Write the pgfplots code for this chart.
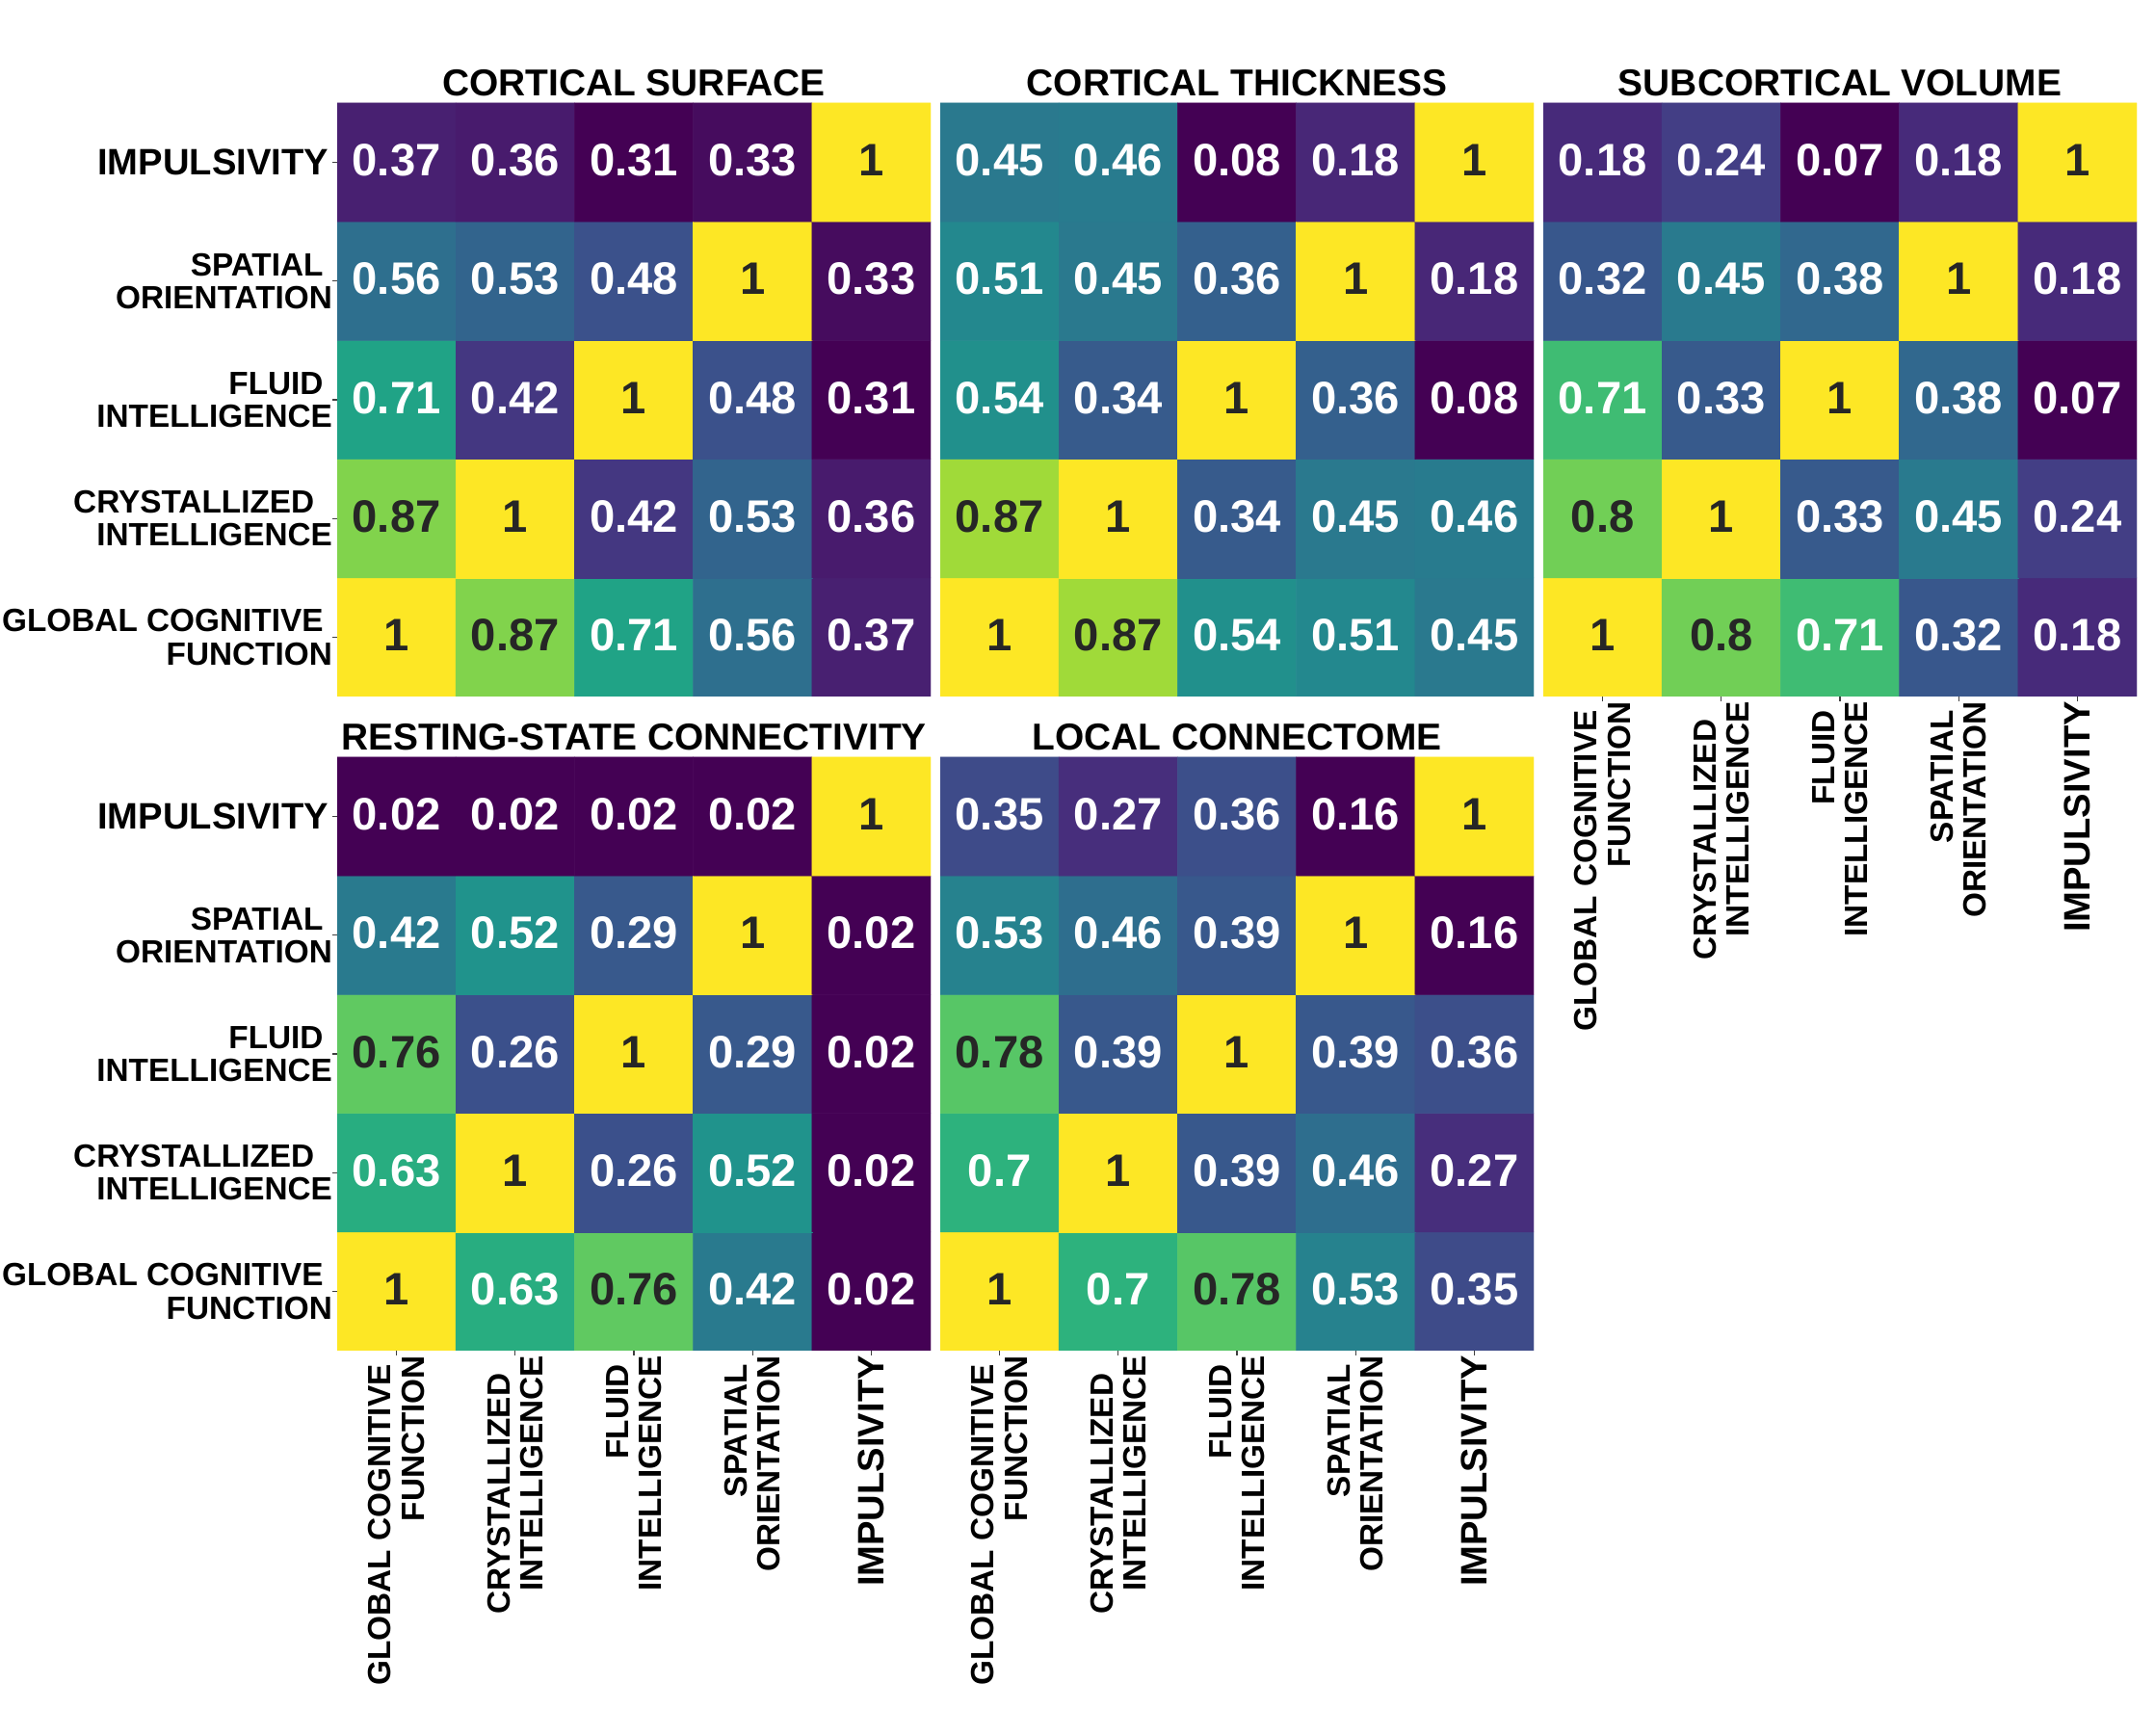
\documentclass[border=0pt]{standalone}
\usepackage{pgfplots}
\usepackage{pgfplotstable}
\pgfplotsset{compat=1.18}
\usepackage{fontspec}
\setmainfont{Liberation Sans}
\definecolor{D}{HTML}{262626}
\definecolor{W}{HTML}{FFFFFF}
\newcommand{\tlf}{\fontsize{24bp}{24.7bp}\selectfont\bfseries}
\newcommand{\imp}{\fontsize{27.5bp}{30bp}\selectfont}
\newcommand{\ann}{\fontsize{34bp}{40bp}\selectfont\bfseries}
\newcommand{\ttl}{\fontsize{28bp}{32bp}\selectfont\bfseries}

% rows: y=0 GLOBAL COGNITIVE FUNCTION ... y=4 IMPULSIVITY; columns x in same order
% dk = 1: dark annotation text, 0: white text
\pgfplotstableread{
x y v dk
0 0 1 1
1 0 0.87 1
2 0 0.71 0
3 0 0.56 0
4 0 0.37 0
0 1 0.87 1
1 1 1 1
2 1 0.42 0
3 1 0.53 0
4 1 0.36 0
0 2 0.71 0
1 2 0.42 0
2 2 1 1
3 2 0.48 0
4 2 0.31 0
0 3 0.56 0
1 3 0.53 0
2 3 0.48 0
3 3 1 1
4 3 0.33 0
0 4 0.37 0
1 4 0.36 0
2 4 0.31 0
3 4 0.33 0
4 4 1 1
}\tCS
\pgfplotstableread{
x y v dk
0 0 1 1
1 0 0.87 1
2 0 0.54 0
3 0 0.51 0
4 0 0.45 0
0 1 0.87 1
1 1 1 1
2 1 0.34 0
3 1 0.45 0
4 1 0.46 0
0 2 0.54 0
1 2 0.34 0
2 2 1 1
3 2 0.36 0
4 2 0.08 0
0 3 0.51 0
1 3 0.45 0
2 3 0.36 0
3 3 1 1
4 3 0.18 0
0 4 0.45 0
1 4 0.46 0
2 4 0.08 0
3 4 0.18 0
4 4 1 1
}\tCT
\pgfplotstableread{
x y v dk
0 0 1 1
1 0 0.8 1
2 0 0.71 0
3 0 0.32 0
4 0 0.18 0
0 1 0.8 1
1 1 1 1
2 1 0.33 0
3 1 0.45 0
4 1 0.24 0
0 2 0.71 0
1 2 0.33 0
2 2 1 1
3 2 0.38 0
4 2 0.07 0
0 3 0.32 0
1 3 0.45 0
2 3 0.38 0
3 3 1 1
4 3 0.18 0
0 4 0.18 0
1 4 0.24 0
2 4 0.07 0
3 4 0.18 0
4 4 1 1
}\tSV
\pgfplotstableread{
x y v dk
0 0 1 1
1 0 0.63 0
2 0 0.76 1
3 0 0.42 0
4 0 0.02 0
0 1 0.63 0
1 1 1 1
2 1 0.26 0
3 1 0.52 0
4 1 0.02 0
0 2 0.76 1
1 2 0.26 0
2 2 1 1
3 2 0.29 0
4 2 0.02 0
0 3 0.42 0
1 3 0.52 0
2 3 0.29 0
3 3 1 1
4 3 0.02 0
0 4 0.02 0
1 4 0.02 0
2 4 0.02 0
3 4 0.02 0
4 4 1 1
}\tRS
\pgfplotstableread{
x y v dk
0 0 1 1
1 0 0.7 0
2 0 0.78 1
3 0 0.53 0
4 0 0.35 0
0 1 0.7 0
1 1 1 1
2 1 0.39 0
3 1 0.46 0
4 1 0.27 0
0 2 0.78 1
1 2 0.39 0
2 2 1 1
3 2 0.39 0
4 2 0.36 0
0 3 0.53 0
1 3 0.46 0
2 3 0.39 0
3 3 1 1
4 3 0.16 0
0 4 0.35 0
1 4 0.27 0
2 4 0.36 0
3 4 0.16 0
4 4 1 1
}\tLC

\pgfplotsset{
  hm/.style={
    scale only axis, width=443.52bp, height=443.52bp,
    anchor=north west,
    xmin=-0.5, xmax=4.5, ymin=-0.5, ymax=4.5,
    axis line style={draw=none},
    xtick=\empty, ytick=\empty,
    tick pos=left, tick align=outside,
    major tick length=3.5bp,
    tick style={black!75, line width=0.8bp},
    colormap/viridis,
    every axis title shift=0pt,
    title style={font=\ttl, anchor=base, at={(0.5,1)}, yshift=5.2bp, inner sep=0pt},
    yticklabel style={anchor=east, align=right, font=\tlf, inner sep=0pt},
    xticklabel style={rotate=90, anchor=east, align=right, font=\tlf, inner sep=0pt},
  },
  ylabs/.style={
    ytick={0,1,2,3,4},
    yticklabels={{GLOBAL COGNITIVE\kern.28em\\FUNCTION},{CRYSTALLIZED\kern.56em\\INTELLIGENCE},{FLUID\kern.28em\\INTELLIGENCE},{SPATIAL\kern.28em\\ORIENTATION},{\imp IMPULSIVITY\kern.1em}},
  },
  xlabs/.style={
    xtick={0,1,2,3,4},
    xticklabels={{GLOBAL COGNITIVE\kern.28em\\FUNCTION},{CRYSTALLIZED\kern.56em\\INTELLIGENCE},{FLUID\kern.28em\\INTELLIGENCE},{SPATIAL\kern.28em\\ORIENTATION},{\imp IMPULSIVITY}},
  },
  cells/.style={matrix plot*, mesh/cols=5, point meta=explicit},
  annot/.style={only marks, mark=none, point meta=explicit symbolic, nodes near coords,
    every node near coord/.append style={font=\ann, text=#1, anchor=center, inner sep=0pt, yshift=1.5bp}},
  annotD/.style={annot=D, restrict expr to domain={\thisrow{dk}}{0.5:1.5}},
  annotW/.style={annot=W, restrict expr to domain={\thisrow{dk}}{-0.5:0.5}},
}

\begin{document}
\begin{tikzpicture}
\useasboundingbox (0,0) rectangle (1610.64bp,1296.72bp);

\begin{axis}[hm, ylabs, at={(252bp,1219.68bp)}, title={CORTICAL SURFACE}, point meta min=0.31, point meta max=1]
\addplot[cells] table[x=x,y=y,meta=v]{\tCS};
\addplot[annotD] table[x=x,y=y,meta=v]{\tCS};
\addplot[annotW] table[x=x,y=y,meta=v]{\tCS};
\end{axis}

\begin{axis}[hm, at={(702.72bp,1219.68bp)}, title={CORTICAL THICKNESS}, point meta min=0.08, point meta max=1]
\addplot[cells] table[x=x,y=y,meta=v]{\tCT};
\addplot[annotD] table[x=x,y=y,meta=v]{\tCT};
\addplot[annotW] table[x=x,y=y,meta=v]{\tCT};
\end{axis}

\begin{axis}[hm, xlabs, at={(1153.44bp,1219.68bp)}, title={SUBCORTICAL VOLUME}, point meta min=0.07, point meta max=1]
\addplot[cells] table[x=x,y=y,meta=v]{\tSV};
\addplot[annotD] table[x=x,y=y,meta=v]{\tSV};
\addplot[annotW] table[x=x,y=y,meta=v]{\tSV};
\end{axis}

\begin{axis}[hm, ylabs, xlabs, at={(252bp,730.8bp)}, title={RESTING-STATE CONNECTIVITY}, point meta min=0.02, point meta max=1]
\addplot[cells] table[x=x,y=y,meta=v]{\tRS};
\addplot[annotD] table[x=x,y=y,meta=v]{\tRS};
\addplot[annotW] table[x=x,y=y,meta=v]{\tRS};
\end{axis}

\begin{axis}[hm, xlabs, at={(702.72bp,730.8bp)}, title={LOCAL CONNECTOME}, point meta min=0.16, point meta max=1]
\addplot[cells] table[x=x,y=y,meta=v]{\tLC};
\addplot[annotD] table[x=x,y=y,meta=v]{\tLC};
\addplot[annotW] table[x=x,y=y,meta=v]{\tLC};
\end{axis}

\end{tikzpicture}
\end{document}
